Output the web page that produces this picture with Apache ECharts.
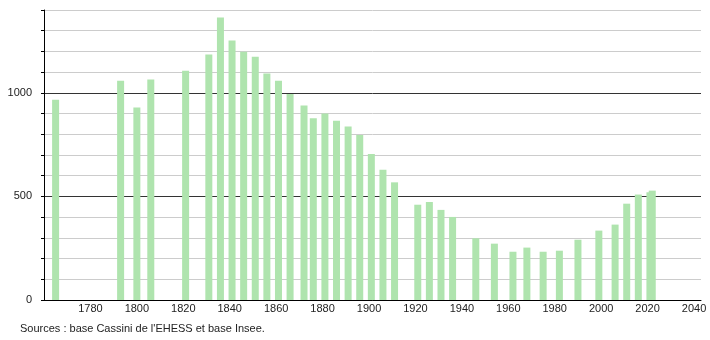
<!DOCTYPE html>
<html>
<head>
<meta charset="utf-8">
<script src="https://cdn.jsdelivr.net/npm/echarts@6/dist/echarts.min.js"></script>
<style>
html,body{margin:0;padding:0;background:#fff;}
#chart{width:710px;height:340px;}
</style>
</head>
<body>
<div id="chart"></div>
<script>
const years = [1765,1793,1800,1806,1821,1831,1836,1841,1846,1851,1856,1861,1866,1872,1876,1881,1886,1891,1896,1901,1906,1911,1921,1926,1931,1936,1946,1954,1962,1968,1975,1982,1990,1999,2006,2011,2016,2021,2022];
const population = [967,1059,929,1064,1107,1185,1364,1253,1198,1174,1093,1059,995,939,877,900,865,837,797,705,629,568,460,473,435,401,298,272,233,253,233,238,291,335,364,465,509,520,528];
const yLabelValues = [0,500,1000];
const sourceText = "Sources : base Cassini de l'EHESS et base Insee.";

const chart = echarts.init(document.getElementById('chart'), null, {renderer:'canvas'});
chart.setOption({
  animation:false,
  backgroundColor:'#fff',
  textStyle:{fontFamily:'Liberation Sans, Arial, sans-serif'},
  grid:{left:44,right:9,top:10,bottom:40},
  xAxis:{
    type:'value', min:1760, max:2043, interval:20,
    axisLine:{show:true,onZero:false,lineStyle:{color:'#000',width:1}},
    axisTick:{show:false},
    splitLine:{show:false},
    axisLabel:{color:'#222',fontSize:11,margin:3,showMinLabel:false,showMaxLabel:false,
      formatter:v=> (v%20===0 && v>1760) ? String(v) : ''}
  },
  yAxis:{
    type:'value', min:0, max:1400, interval:100,
    axisLine:{show:true,lineStyle:{color:'#000',width:1}},
    axisTick:{show:true,length:3,lineStyle:{color:'#000'}},
    splitLine:{show:true,lineStyle:{color:['#333','#ccc','#ccc','#ccc','#ccc'],width:1}},
    axisLabel:{color:'#222',fontSize:11,margin:12,
      formatter:v=> yLabelValues.includes(v) ? String(v) : ''}
  },
  series:[{
    type:'bar',
    data: years.map((y,i)=>[y,population[i]]),
    barWidth:7,
    itemStyle:{color:'#afe4ae'}
  }],
  graphic:[{
    type:'text', left:20, top:323,
    style:{text:sourceText, fill:'#222', font:'11px Liberation Sans, Arial, sans-serif'}
  }]
});
</script>
</body>
</html>
